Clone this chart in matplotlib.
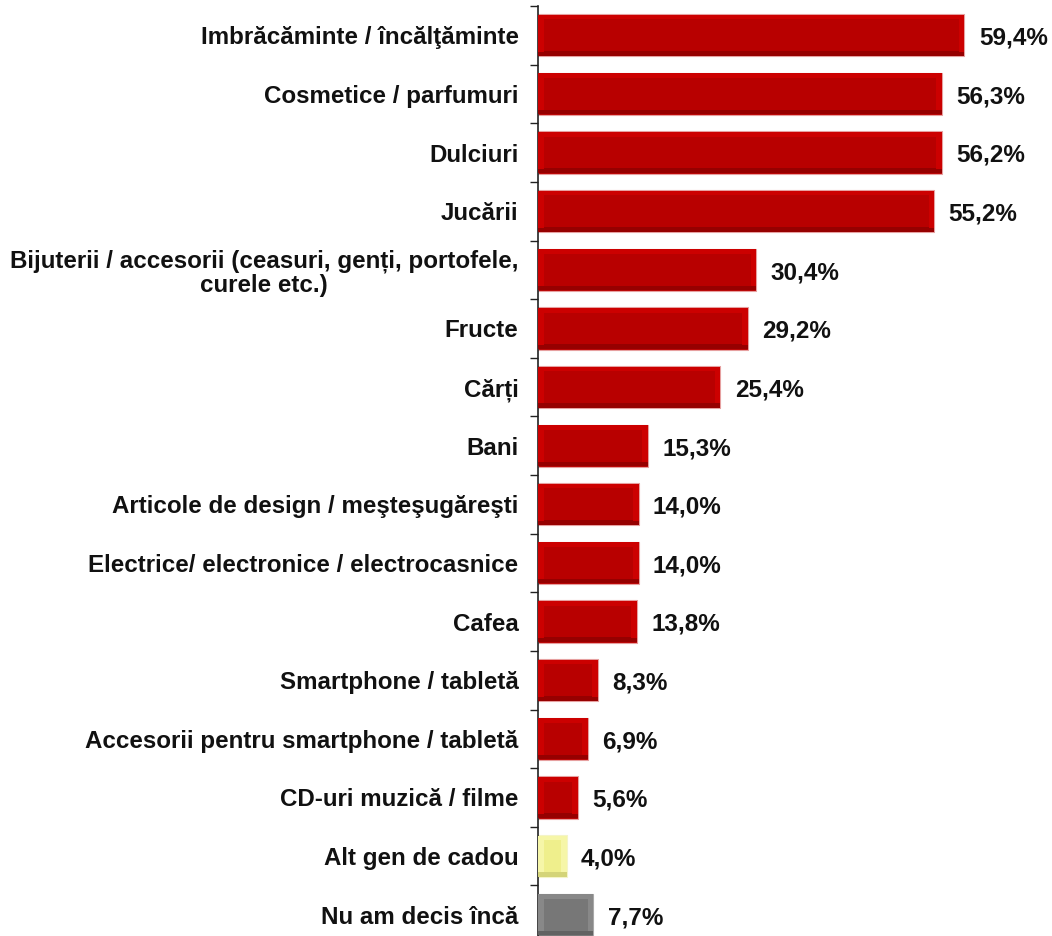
import matplotlib
matplotlib.use("Agg")
import matplotlib.pyplot as plt
from matplotlib.ticker import FixedLocator

categories = [
    "Imbrăcăminte / încălţăminte",
    "Cosmetice / parfumuri",
    "Dulciuri",
    "Jucării",
    "Bijuterii / accesorii (ceasuri, genți, portofele,\ncurele etc.)",
    "Fructe",
    "Cărți",
    "Bani",
    "Articole de design / meşteşugăreşti",
    "Electrice/ electronice / electrocasnice",
    "Cafea",
    "Smartphone / tabletă",
    "Accesorii pentru smartphone / tabletă",
    "CD-uri muzică / filme",
    "Alt gen de cadou",
    "Nu am decis încă",
]
values = [59.4, 56.3, 56.2, 55.2, 30.4, 29.2, 25.4, 15.3, 14.0, 14.0, 13.8, 8.3, 6.9, 5.6, 4.0, 7.7]
labels = ["59,4%", "56,3%", "56,2%", "55,2%", "30,4%", "29,2%", "25,4%", "15,3%",
          "14,0%", "14,0%", "13,8%", "8,3%", "6,9%", "5,6%", "4,0%", "7,7%"]

face = ["#B80000"] * 14 + ["#EFEF8C", "#777777"]
light = ["#CC0000"] * 14 + ["#F6F6A8", "#888888"]
dark = ["#960000"] * 14 + ["#D4D478", "#626262"]
edge = ["#E6A0A0"] * 14 + ["#F4F4C8", "#A8A8A8"]

plt.rcParams['font.family'] = ['Liberation Sans', 'DejaVu Sans']

W, H = 1052, 936
fig = plt.figure(figsize=(W / 100, H / 100), dpi=100)
ax_left = 538 / W
top_px, bot_px = 6, 944
ax = fig.add_axes([ax_left, (H - bot_px) / H, 1 - ax_left, (bot_px - top_px) / H])

n = len(values)
y = list(range(n))
bh = 0.72
xmax = (W - 538) / 7.18
bev = 0.8  # data units horizontally
vb = 0.08  # vertical bevel band

ax.barh(y, values, height=bh, color=face, edgecolor=edge, linewidth=0.8, zorder=2)
ax.barh([yy - bh / 2 + vb / 2 + 0.01 for yy in y], values, height=vb, color=light, linewidth=0, zorder=3)
ax.barh([yy + bh / 2 - vb / 2 - 0.01 for yy in y], values, height=vb, color=dark, linewidth=0, zorder=3)
ax.barh(y, [bev] * n, height=bh - 2 * vb, color=light, linewidth=0, zorder=3)
ax.barh(y, [bev] * n, left=[v - bev for v in values], height=bh - 2 * vb, color=light, linewidth=0, zorder=3)

for yy, v, lab in zip(y, values, labels):
    ax.text(v + 2.0, yy + 0.05, lab, ha="left", va="center", fontsize=17.5, fontweight="bold", color="#111111")

ax.set_xlim(0, xmax)
ax.set_ylim(n - 0.5, -0.5)
ax.set_yticks(y)
ax.set_yticklabels(categories, fontsize=17.4, fontweight="bold", color="#111111")
ax.tick_params(axis="y", which="major", length=0, pad=14)
for t in ax.get_yticklabels():
    t.set_multialignment("center")
    t.set_linespacing(1.1)

ax.yaxis.set_minor_locator(FixedLocator([i - 0.5 for i in range(n + 1)]))
ax.tick_params(axis="y", which="minor", length=6, direction="out", color="#222222", width=1)
ax.set_xticks([])
for s in ["top", "right", "bottom"]:
    ax.spines[s].set_visible(False)
ax.spines["left"].set_color("#222222")
ax.spines["left"].set_linewidth(1.2)

fig.savefig("out.png", dpi=100)
